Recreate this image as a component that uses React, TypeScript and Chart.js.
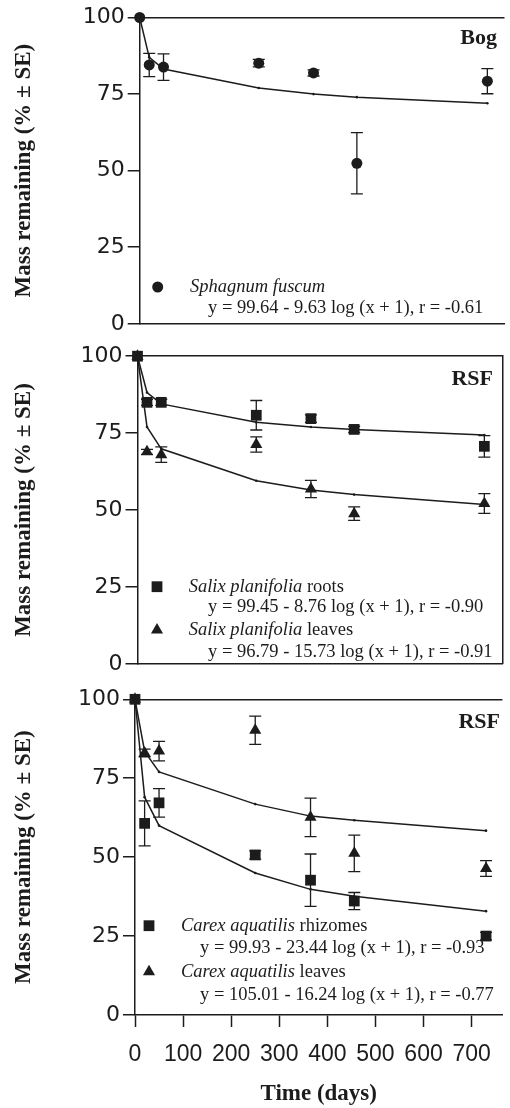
import React, { useEffect, useRef } from 'react';
import { Chart, registerables } from 'chart.js';
Chart.register(...registerables);

// ---------- data ----------
const days = [0, 20, 50, 250, 365, 456, 730];
const xTickValues = [0, 100, 200, 300, 400, 500, 600, 700];
const yTickStep = 25;

// Panel 1 — Bog
const sphagnumMean = [100, 84.5, 83.8, 85.1, 81.9, 52.4, 79.2];
const sphagnumSE = [0, 3.8, 4.3, 1.2, 1.0, 10.0, 4.1];
const sphagnumFit = [100, 87, 83.2, 77, 75, 74, 72];

// Panel 2 — RSF, Salix planifolia
const salixRootsMean = [100, 85.0, 85.0, 80.8, 79.7, 76.2, 70.7];
const salixRootsSE = [0, 1.0, 1.0, 4.8, 1.2, 1.0, 3.5];
const salixRootsFit = [100, 88.2, 84.5, 78.5, 77, 76.2, 74.4];
const salixLeavesMean = [100, 68.9, 68.0, 71.3, 56.8, 48.8, 52.1];
const salixLeavesSE = [0, 0.8, 2.5, 2.5, 2.8, 2.2, 3.2];
const salixLeavesFit = [100, 77, 69.9, 59.5, 56.5, 55, 51.8];

// Panel 3 — RSF, Carex aquatilis
const carexRhizMean = [100, 60.7, 67.2, 50.7, 42.7, 36.1, 25.0];
const carexRhizSE = [0, 7.1, 4.5, 1.3, 8.3, 2.7, 1.2];
const carexRhizFit = [100, 69, 60, 45, 39.8, 37.6, 32.9];
const carexLeavesMean = [100, 83.0, 83.6, 90.2, 62.6, 51.2, 46.4];
const carexLeavesSE = [0, 1.2, 3.1, 4.5, 6.1, 5.8, 2.5];
const carexLeavesFit = [100, 83.5, 77, 66.8, 63, 61.7, 58.4];

const yTitle = 'Mass remaining (% ± SE)';
const xTitle = 'Time (days)';

// ---------- helpers ----------
const INK = '#1c1c1c';
const SERIF = '"Liberation Serif", "Times New Roman", serif';
const SANS = '"Liberation Sans", Arial, sans-serif';
const WIDE_SANS = '"DejaVu Sans", "Liberation Sans", sans-serif';

const pts = (ys: number[]) => days.map((d, i) => ({ x: d, y: ys[i] }));

function markerDataset(ys: number[], se: number[], style: string, radius: number) {
  return {
    type: 'scatter',
    data: pts(ys),
    se,
    showLine: false,
    pointStyle: style,
    pointRadius: radius,
    pointHoverRadius: radius,
    pointBackgroundColor: INK,
    pointBorderColor: INK,
    pointBorderWidth: 0,
    clip: false,
    order: 0,
  };
}

function fitDataset(ys: number[]) {
  return {
    type: 'line',
    data: pts(ys),
    borderColor: INK,
    borderWidth: 1.5,
    pointRadius: 1.3,
    pointBackgroundColor: INK,
    pointBorderWidth: 0,
    tension: 0,
    fill: false,
    clip: false,
    order: 1,
  };
}

function drawMarker(ctx: CanvasRenderingContext2D, style: string, x: number, y: number) {
  ctx.fillStyle = INK;
  ctx.beginPath();
  if (style === 'circle') {
    ctx.arc(x, y, 5.5, 0, Math.PI * 2);
  } else if (style === 'rect') {
    ctx.rect(x - 5.4, y - 5.4, 10.8, 10.8);
  } else {
    const r = 7;
    ctx.moveTo(x, y - r);
    ctx.lineTo(x + r * Math.sin(Math.PI / 3), y + r / 2);
    ctx.lineTo(x - r * Math.sin(Math.PI / 3), y + r / 2);
    ctx.closePath();
  }
  ctx.fill();
}

const errorBars = {
  id: 'errorBars',
  afterDatasetsDraw(chart: any) {
    const ctx = chart.ctx;
    const xs = chart.scales.x;
    const ys = chart.scales.y;
    ctx.save();
    ctx.strokeStyle = INK;
    ctx.lineWidth = 1.3;
    chart.data.datasets.forEach((ds: any) => {
      if (!ds.se) return;
      ds.data.forEach((p: any, i: number) => {
        const e = ds.se[i];
        if (!e) return;
        const px = xs.getPixelForValue(p.x);
        const top = ys.getPixelForValue(p.y + e);
        const bot = ys.getPixelForValue(p.y - e);
        ctx.beginPath();
        ctx.moveTo(px, top);
        ctx.lineTo(px, bot);
        ctx.moveTo(px - 6, top);
        ctx.lineTo(px + 6, top);
        ctx.moveTo(px - 6, bot);
        ctx.lineTo(px + 6, bot);
        ctx.stroke();
      });
    });
    ctx.restore();
  },
};

type LegendItem = {
  marker: string;
  mx: number;
  my: number;
  italic: string;
  plain: string;
  tx: number;
  eq: string;
  ex: number;
  ey: number;
};

function annotations(label: string, lx: number, ly: number, items: LegendItem[]) {
  return {
    id: 'annotations',
    afterDraw(chart: any) {
      const ctx = chart.ctx as CanvasRenderingContext2D;
      ctx.save();
      ctx.fillStyle = INK;
      ctx.textBaseline = 'middle';
      ctx.font = `bold 22px ${SERIF}`;
      ctx.textAlign = 'right';
      ctx.fillText(label, lx, ly);
      ctx.textAlign = 'left';
      items.forEach((it) => {
        drawMarker(ctx, it.marker, it.mx, it.my);
        ctx.fillStyle = INK;
        ctx.font = `italic 18.5px ${SERIF}`;
        ctx.fillText(it.italic, it.tx, it.my);
        const w = ctx.measureText(it.italic).width;
        if (it.plain) {
          ctx.font = `18.5px ${SERIF}`;
          ctx.fillText(it.plain, it.tx + w, it.my);
        }
        ctx.font = `18.5px ${SERIF}`;
        ctx.fillText(it.eq, it.ex, it.ey);
      });
      ctx.restore();
    },
  };
}

function makeConfig(o: {
  datasets: any[];
  yWidth: number;
  xHeight: number;
  padTop: number;
  xMax: number;
  showX: boolean;
  rightBorder: boolean;
  plugin: any;
}) {
  const scales: any = {
    x: {
      type: 'linear',
      min: 0,
      max: o.xMax,
      afterBuildTicks: (s: any) => {
        s.ticks = xTickValues.map((v) => ({ value: v }));
      },
      ticks: {
        display: o.showX,
        font: { family: SANS, size: 23 },
        color: INK,
        padding: 14,
        maxRotation: 0,
        autoSkip: false,
      },
      grid: {
        display: o.showX,
        drawOnChartArea: false,
        drawTicks: o.showX,
        tickLength: 12,
        tickColor: INK,
        tickWidth: 1.5,
      },
      border: { display: true, color: INK, width: 1.5 },
      title: {
        display: o.showX,
        text: xTitle,
        font: { family: SERIF, size: 23, weight: 'bold' },
        color: INK,
        padding: { top: 0, bottom: 0 },
      },
      afterFit: (s: any) => {
        s.height = o.xHeight;
      },
    },
    y: {
      type: 'linear',
      position: 'left',
      min: 0,
      max: 100,
      ticks: {
        stepSize: yTickStep,
        font: { family: WIDE_SANS, size: 22 },
        color: INK,
        padding: 3,
      },
      grid: {
        drawOnChartArea: true,
        color: (c: any) => (c.tick && c.tick.value === 100 ? INK : 'rgba(0,0,0,0)'),
        lineWidth: 1.5,
        tickColor: INK,
        tickWidth: 1.5,
        tickLength: 12,
      },
      border: { display: true, color: INK, width: 1.5 },
      title: {
        display: true,
        text: yTitle,
        font: { family: SERIF, size: 23, weight: 'bold' },
        color: INK,
        padding: { top: 10, bottom: 0 },
      },
      afterFit: (s: any) => {
        s.width = o.yWidth;
      },
    },
  };
  if (o.rightBorder) {
    scales.y2 = {
      type: 'linear',
      position: 'right',
      min: 0,
      max: 100,
      display: true,
      ticks: { display: false },
      grid: { display: false, drawTicks: false },
      border: { display: true, color: INK, width: 1.5 },
      afterFit: (s: any) => {
        s.width = 2;
      },
    };
  }
  return {
    type: 'scatter',
    data: { datasets: o.datasets },
    options: {
      responsive: false,
      animation: false,
      devicePixelRatio: 1,
      layout: { padding: { top: o.padTop, left: 0, right: 0, bottom: 0 } },
      plugins: { legend: { display: false }, tooltip: { enabled: false } },
      scales,
    },
    plugins: [errorBars, o.plugin],
  };
}

function Panel({ top, height, config }: { top: number; height: number; config: any }) {
  const ref = useRef<HTMLCanvasElement>(null);
  useEffect(() => {
    const chart = new Chart(ref.current as HTMLCanvasElement, config);
    return () => chart.destroy();
  }, []);
  return (
    <canvas
      ref={ref}
      width={510}
      height={height}
      style={{ position: 'absolute', left: 0, top, width: 510, height }}
    />
  );
}

const config1 = makeConfig({
  datasets: [markerDataset(sphagnumMean, sphagnumSE, 'circle', 5.5), fitDataset(sphagnumFit)],
  yWidth: 139.7,
  xHeight: 14.3,
  padTop: 17.5,
  xMax: 766,
  showX: false,
  rightBorder: false,
  plugin: annotations('Bog', 497, 38, [
    {
      marker: 'circle', mx: 157.7, my: 287, italic: 'Sphagnum fuscum', plain: '', tx: 190,
      eq: 'y = 99.64 - 9.63 log (x + 1), r = -0.61', ex: 208, ey: 308,
    },
  ]),
});

const config2 = makeConfig({
  datasets: [
    markerDataset(salixRootsMean, salixRootsSE, 'rect', 7.6),
    markerDataset(salixLeavesMean, salixLeavesSE, 'triangle', 7),
    fitDataset(salixRootsFit),
    fitDataset(salixLeavesFit),
  ],
  yWidth: 137.5,
  xHeight: 7,
  padTop: 15.7,
  xMax: 768,
  showX: false,
  rightBorder: true,
  plugin: annotations('RSF', 493, 39.5, [
    {
      marker: 'rect', mx: 157, my: 246.7, italic: 'Salix planifolia', plain: ' roots', tx: 188.7,
      eq: 'y = 99.45 - 8.76 log (x + 1), r = -0.90', ex: 208, ey: 266.7,
    },
    {
      marker: 'triangle', mx: 157, my: 290, italic: 'Salix planifolia', plain: ' leaves', tx: 188.7,
      eq: 'y = 96.79 - 15.73 log (x + 1), r = -0.91', ex: 208, ey: 311.7,
    },
  ]),
});

const config3 = makeConfig({
  datasets: [
    markerDataset(carexRhizMean, carexRhizSE, 'rect', 7.6),
    markerDataset(carexLeavesMean, carexLeavesSE, 'triangle', 7),
    fitDataset(carexRhizFit),
    fitDataset(carexLeavesFit),
  ],
  yWidth: 135,
  xHeight: 93,
  padTop: 19.3,
  xMax: 764,
  showX: true,
  rightBorder: false,
  plugin: annotations('RSF', 500, 42.5, [
    {
      marker: 'rect', mx: 149, my: 245.7, italic: 'Carex aquatilis', plain: ' rhizomes', tx: 181,
      eq: 'y = 99.93 - 23.44 log (x + 1), r = -0.93', ex: 200, ey: 268.3,
    },
    {
      marker: 'triangle', mx: 149, my: 291.7, italic: 'Carex aquatilis', plain: ' leaves', tx: 181,
      eq: 'y = 105.01 - 16.24 log (x + 1), r = -0.77', ex: 200, ey: 315,
    },
  ]),
});

export default function App() {
  return (
    <div style={{ position: 'absolute', left: 0, top: 0, width: 510, height: 1108, background: '#fff' }}>
      <Panel top={0} height={340} config={config1} />
      <Panel top={340} height={340} config={config2} />
      <Panel top={680} height={428} config={config3} />
    </div>
  );
}
